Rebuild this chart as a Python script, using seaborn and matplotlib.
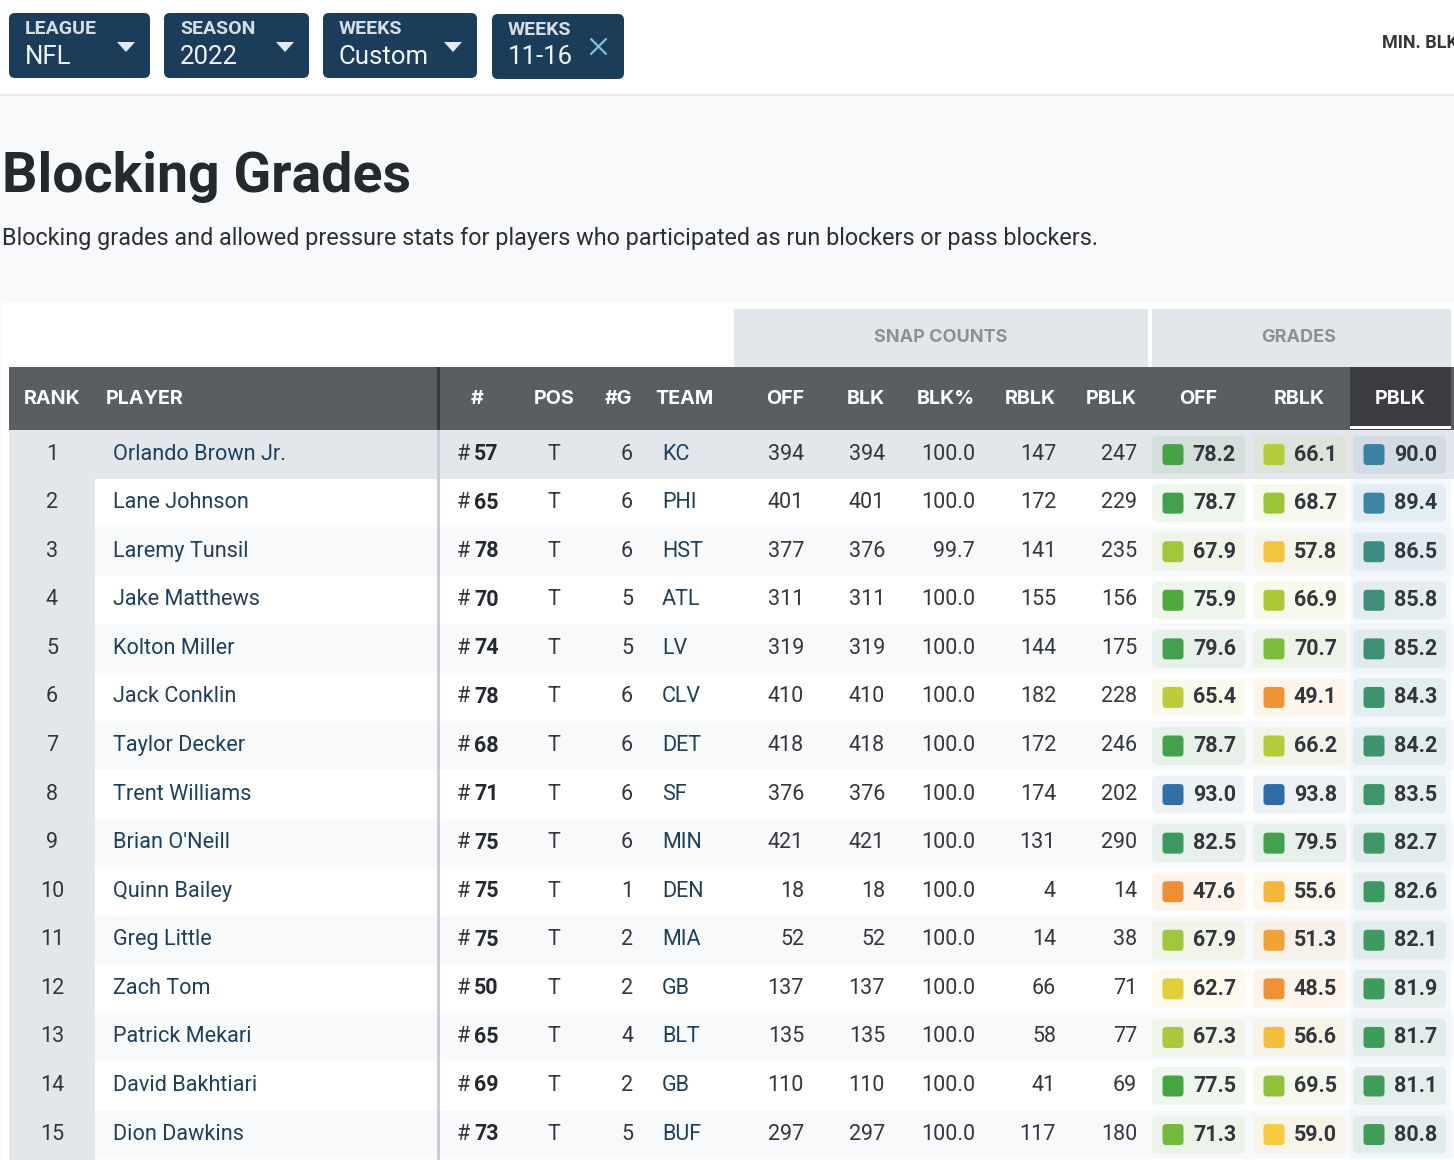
import pandas as pd
import seaborn as sns
import matplotlib.pyplot as plt
from matplotlib.colors import LinearSegmentedColormap
from matplotlib.patches import FancyBboxPatch, Rectangle
from matplotlib.path import Path

W, H = 1454, 1160

# Colours
NAVY = '#1B3D5A'
HEAD_GRAY = '#5A5E63'
HEAD_DARK = '#3B3C40'
PALE = '#E3E6EB'
STRIPE = '#F8F9FB'
INK = '#33363A'
LINK = '#1E3F5C'

BODY = ['Roboto', 'DejaVu Sans']
HEAD = ['Inter', 'Roboto', 'DejaVu Sans']
NARROW = ['Liberation Sans Narrow', 'Roboto', 'DejaVu Sans']

# Data
chips_top = ['LEAGUE', 'SEASON', 'WEEKS', 'WEEKS']
chips_value = ['NFL', '2022', 'Custom', '11-16']

players = ['Orlando Brown Jr.', 'Lane Johnson', 'Laremy Tunsil', 'Jake Matthews',
           'Kolton Miller', 'Jack Conklin', 'Taylor Decker', 'Trent Williams',
           "Brian O'Neill", 'Quinn Bailey', 'Greg Little', 'Zach Tom',
           'Patrick Mekari', 'David Bakhtiari', 'Dion Dawkins']
numbers = [57, 65, 78, 70, 74, 78, 68, 71, 75, 75, 75, 50, 65, 69, 73]
games = [6, 6, 6, 5, 5, 6, 6, 6, 6, 1, 2, 2, 4, 2, 5]
teams = ['KC', 'PHI', 'HST', 'ATL', 'LV', 'CLV', 'DET', 'SF', 'MIN', 'DEN',
         'MIA', 'GB', 'BLT', 'GB', 'BUF']
snaps_off = [394, 401, 377, 311, 319, 410, 418, 376, 421, 18, 52, 137, 135, 110, 297]
snaps_blk = [394, 401, 376, 311, 319, 410, 418, 376, 421, 18, 52, 137, 135, 110, 297]
blk_pct = [100.0, 100.0, 99.7, 100.0, 100.0, 100.0, 100.0, 100.0, 100.0, 100.0,
           100.0, 100.0, 100.0, 100.0, 100.0]
snaps_rblk = [147, 172, 141, 155, 144, 182, 172, 174, 131, 4, 14, 66, 58, 41, 117]
snaps_pblk = [247, 229, 235, 156, 175, 228, 246, 202, 290, 14, 38, 71, 77, 69, 180]
grade_off = [78.2, 78.7, 67.9, 75.9, 79.6, 65.4, 78.7, 93.0, 82.5, 47.6, 67.9, 62.7,
             67.3, 77.5, 71.3]
grade_rblk = [66.1, 68.7, 57.8, 66.9, 70.7, 49.1, 66.2, 93.8, 79.5, 55.6, 51.3, 48.5,
              56.6, 69.5, 59.0]
grade_pblk = [90.0, 89.4, 86.5, 85.8, 85.2, 84.3, 84.2, 83.5, 82.7, 82.6, 82.1, 81.9,
              81.7, 81.1, 80.8]

# Layout
row_h = 48.57
row_top = 430
n_rows = len(players)
tile_left = [1152, 1253, 1353]
tile_w = 93
tile_h = 38

# grade -> colour, same ramp the site uses
stops = [(40, '#EE8433'), (48, '#EE8F35'), (55, '#F3B53A'), (59, '#F6CB3E'),
         (62.7, '#E0CF3A'), (66, '#B5CB3A'), (68.7, '#9CC53A'), (71.3, '#73B93C'),
         (77.5, '#45A540'), (82, '#3E9A5E'), (85.8, '#3E8E7A'), (89.4, '#3A86A2'),
         (94, '#2F6AA6'), (100, '#2F6AA6')]
grade_cmap = LinearSegmentedColormap.from_list(
    'grades', [((g - 40) / 60, c) for g, c in stops])


def grade_color(g):
    return grade_cmap((g - 40) / 60)


def rounded(x0, y0, x1, y1, r, **kw):
    return FancyBboxPatch((x0 + r, y0 + r), x1 - x0 - 2 * r, y1 - y0 - 2 * r,
                          boxstyle='round,pad=%s,rounding_size=%s' % (r, r),
                          linewidth=0, **kw)


# rounded square marker for the grade swatches
k = 0.18
swatch_marker = Path(
    [(-.5 + k, -.5), (.5 - k, -.5), (.5, -.5), (.5, -.5 + k), (.5, .5 - k), (.5, .5),
     (.5 - k, .5), (-.5 + k, .5), (-.5, .5), (-.5, .5 - k), (-.5, -.5 + k), (-.5, -.5),
     (-.5 + k, -.5), (-.5 + k, -.5)],
    [Path.MOVETO, Path.LINETO, Path.CURVE3, Path.CURVE3, Path.LINETO, Path.CURVE3,
     Path.CURVE3, Path.LINETO, Path.CURVE3, Path.CURVE3, Path.LINETO, Path.CURVE3,
     Path.CURVE3, Path.CLOSEPOLY])

sns.set_theme(style='white')
plt.rcParams['font.family'] = BODY

fig = plt.figure(figsize=(W / 100, H / 100), dpi=100, facecolor='white')
ax = fig.add_axes([0, 0, 1, 1])
ax.set_xlim(0, W)
ax.set_ylim(H, 0)
ax.axis('off')


def box(x0, y0, x1, y1, color, z=1):
    ax.add_patch(Rectangle((x0, y0), x1 - x0, y1 - y0, color=color, linewidth=0, zorder=z))


# page background
box(0, 94, W, H, STRIPE, 0)
box(0, 94, W, 95.5, '#E6E7EA', 1)
box(2, 302, W, H, 'white', 1)

# filter chips
chip_x = [(9, 150, 13), (164, 309, 13), (323, 477, 13), (492, 624, 14)]
for (x0, x1, y0), top, val in zip(chip_x, chips_top, chips_value):
    ax.add_patch(rounded(x0, y0, x1, y0 + 65, 6, color=NAVY, zorder=2))
    ax.text(x0 + 16, y0 + 16, top, color='#D5DEE6', fontsize=14, fontweight='bold',
            family=NARROW, va='center', zorder=3)
    ax.text(x0 + 16, y0 + 43.5, val, color='#F1F4F7', fontsize=18.5, va='center', zorder=3)
for x1, y0, _ in [(c[1], c[2], 0) for c in chip_x[:3]]:
    tx = x1 - 24
    ax.fill([tx - 9, tx + 9, tx], [y0 + 29, y0 + 29, y0 + 39], color='#E3E9EF', lw=0, zorder=3)
ax.plot([591, 606], [39, 54], color='#8FC1E3', lw=1.5, zorder=3)
ax.plot([591, 606], [54, 39], color='#8FC1E3', lw=1.5, zorder=3)
ax.text(1382, 43, 'MIN. BLK SNAPS', color=INK, fontsize=13, fontweight='bold', va='center')

# title
ax.text(2, 177, 'Blocking Grades', color='#25282C', fontsize=40, fontweight='bold',
        family=NARROW, va='center')
ax.text(2, 238, 'Blocking grades and allowed pressure stats for players who participated '
        'as run blockers or pass blockers.', color='#2B2E32', fontsize=16.8, va='center')

# group headers
box(734, 309, 1148, 367, PALE, 2)
box(1152, 309, 1451, 367, PALE, 2)
ax.text(941, 338, 'SNAP COUNTS', color='#8B9097', fontsize=13, fontweight='bold',
        family=HEAD, ha='center', va='center', zorder=3)
ax.text(1299, 338, 'GRADES', color='#8B9097', fontsize=13, fontweight='bold',
        family=HEAD, ha='center', va='center', zorder=3)

# header band
box(9, 367, W, 430, HEAD_GRAY, 2)
box(1350, 367, 1451, 430, HEAD_DARK, 3)
box(1350, 426, 1451, 429, 'white', 4)
box(437, 367, 440, 430, '#36393D', 4)
headers = [('RANK', 52, 'center'), ('PLAYER', 106, 'left'), ('#', 477, 'center'),
           ('POS', 554, 'center'), ('#G', 619, 'center'), ('TEAM', 655, 'left'),
           ('OFF', 804, 'right'), ('BLK', 885, 'right'), ('BLK%', 975, 'right'),
           ('RBLK', 1056, 'right'), ('PBLK', 1137, 'right'), ('OFF', 1198, 'center'),
           ('RBLK', 1299, 'center'), ('PBLK', 1400, 'center')]
for label, x, ha in headers:
    ax.text(x, 399.5, label, color='white', fontsize=14.2, fontweight='bold', family=HEAD,
            ha=ha, va='center', zorder=5)

# rows
grades = [grade_off, grade_rblk, grade_pblk]
swatch_rows = []
for i in range(n_rows):
    y0 = row_top + i * row_h
    y = y0 + row_h / 2 - 0.2
    band = PALE if i == 0 else ('white' if i % 2 else STRIPE)
    box(95 if i else 9, y0, W, y0 + row_h, band, 1)
    if i:
        box(1350, y0, 1451, y0 + row_h, '#F5F8FC' if i % 2 else '#F2F5FA', 1)
    ax.text(52, y, str(i + 1), color=INK, fontsize=15.5, ha='center', va='center', zorder=3)
    ax.text(113, y, players[i], color=LINK, fontsize=15.6, va='center', zorder=3)
    ax.text(457, y, '#', color=INK, fontsize=15.5, va='center', zorder=3)
    ax.text(474, y, str(numbers[i]), color='#25282C', fontsize=15.5, fontweight='bold',
            va='center', zorder=3)
    ax.text(554, y, 'T', color=INK, fontsize=15.5, ha='center', va='center', zorder=3)
    ax.text(633, y, str(games[i]), color=INK, fontsize=15.5, ha='right', va='center', zorder=3)
    ax.text(662, y, teams[i], color=LINK, fontsize=15.5, va='center', zorder=3)
    cells = [(804, snaps_off[i]), (885, snaps_blk[i]), (975, '%.1f' % blk_pct[i]),
             (1056, snaps_rblk[i]), (1137, snaps_pblk[i])]
    for x, v in cells:
        ax.text(x, y, str(v), color=INK, fontsize=15.5, ha='right', va='center', zorder=3)
    for left, col in zip(tile_left, grades):
        g = col[i]
        ax.add_patch(rounded(left, y - tile_h / 2 + .5, left + tile_w, y + tile_h / 2 + .5, 5,
                             color=grade_color(g), alpha=0.09, zorder=2))
        ax.text(left + 84, y + .5, '%.1f' % g, color=INK, fontsize=15.5, fontweight='bold',
                ha='right', va='center', zorder=3)
        swatch_rows.append({'x': left + 21, 'y': y + .5, 'grade': g})

box(9, 430, 95, H, PALE, 1)
box(437, 430, 440, H, '#C9CDD3', 3)

swatches = pd.DataFrame(swatch_rows)
sns.scatterplot(data=swatches, x='x', y='y', hue='grade',
                palette={g: grade_color(g) for g in swatches['grade'].unique()},
                marker=swatch_marker, s=(21 * 0.72) ** 2, linewidth=0, legend=False,
                zorder=4, ax=ax)
ax.set_xlim(0, W)
ax.set_ylim(H, 0)
ax.axis('off')

fig.savefig('out.png', dpi=100, facecolor='white')
